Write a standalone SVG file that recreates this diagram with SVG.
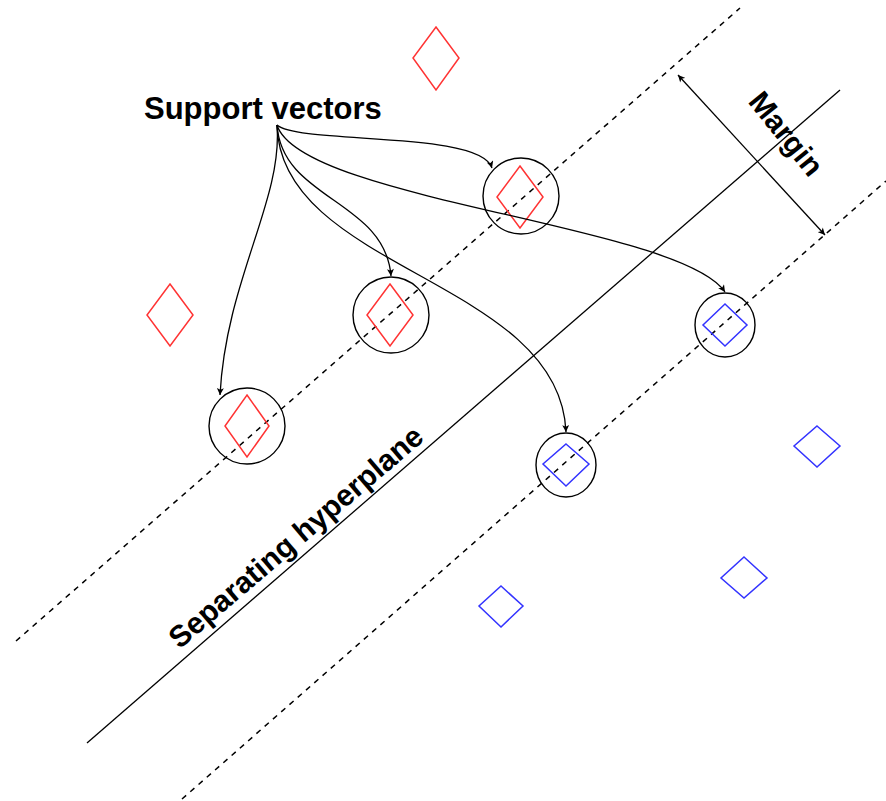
<svg xmlns="http://www.w3.org/2000/svg" width="886" height="801" viewBox="0 0 886 801">
<style>
.ln{fill:none;stroke:#000;stroke-width:1.3}
.dash{fill:none;stroke:#000;stroke-width:1.5;stroke-dasharray:5.5 5.5}
.cir{fill:none;stroke:#000;stroke-width:1.4}
.red{fill:none;stroke:#FF3333;stroke-width:1.5}
.blue{fill:none;stroke:#3333FF;stroke-width:1.5}
.lbl{font-family:"Liberation Sans",Arial,sans-serif;font-weight:bold;font-size:30px;fill:#000}
</style>
<defs>
<marker id="ah" viewBox="0 0 10 10" refX="10" refY="5" markerWidth="8" markerHeight="7" markerUnits="userSpaceOnUse" orient="auto-start-reverse">
<path d="M0,0 L10,5 L0,10 L2.5,5 z" fill="#000"/>
</marker>
</defs>
<rect width="886" height="801" fill="#fff"/>
<g id="lines">
<line class="dash" x1="16" y1="641" x2="740" y2="8"/>
<line class="ln" x1="87" y1="743" x2="840" y2="90"/>
<line class="dash" x1="182" y1="799" x2="886" y2="181"/>
</g>
<g id="margin">
<line class="ln" x1="678" y1="75" x2="825" y2="235" marker-start="url(#ah)" marker-end="url(#ah)"/>
<text class="lbl" transform="translate(786,134) rotate(51)" text-anchor="middle" y="10">Margin</text>
</g>
<g id="hyperplane-label">
<text class="lbl" transform="translate(296,537) rotate(-40.5)" text-anchor="middle" y="10">Separating hyperplane</text>
</g>
<g id="support-label">
<text class="lbl" x="144" y="119" style="font-size:31px">Support vectors</text>
</g>
<g id="red1"><polygon class="red" points="436,27 459,58 436,90 413,58"/></g>
<g id="red2"><polygon class="red" points="170,284 193,315 170,346 147,315"/></g>
<g id="sv-red-mid"><circle class="cir" cx="391" cy="315" r="38"/><polygon class="red" points="390,284 413,315 390,346 367,315"/></g>
<g id="sv-red-low"><circle class="cir" cx="247" cy="426" r="38"/><polygon class="red" points="247,395 269,426 247,457 225,426"/></g>
<g id="sv-red-top"><circle class="cir" cx="521" cy="196" r="38"/><polygon class="red" points="520,166 543,197 520,228 497,197"/></g>
<g id="sv-blue-right"><ellipse class="cir" cx="725" cy="325" rx="30" ry="32"/><polygon class="blue" points="725,304 747,325 725,346 703,325"/></g>
<g id="sv-blue-low"><ellipse class="cir" cx="566" cy="465" rx="30" ry="32"/><polygon class="blue" points="566,444 589,464 566,486 543,464"/></g>
<g id="blue1"><polygon class="blue" points="817,426 840,446 817,467 794,446"/></g>
<g id="blue2"><polygon class="blue" points="744,557 767,578 744,598 721,578"/></g>
<g id="blue3"><polygon class="blue" points="501,586 523,606 501,627 479,606"/></g>
<g id="connectors">
<path class="ln" d="M277,125 C300,145 480,130 492,168" marker-end="url(#ah)"/>
<path class="ln" d="M277,125 C300,200 680,225 725,292" marker-end="url(#ah)"/>
<path class="ln" d="M277,125 C282,200 385,200 391,276" marker-end="url(#ah)"/>
<path class="ln" d="M277,125 C280,270 560,280 566,432" marker-end="url(#ah)"/>
<path class="ln" d="M277,125 C283,200 226,280 220,395" marker-end="url(#ah)"/>
</g>
</svg>
